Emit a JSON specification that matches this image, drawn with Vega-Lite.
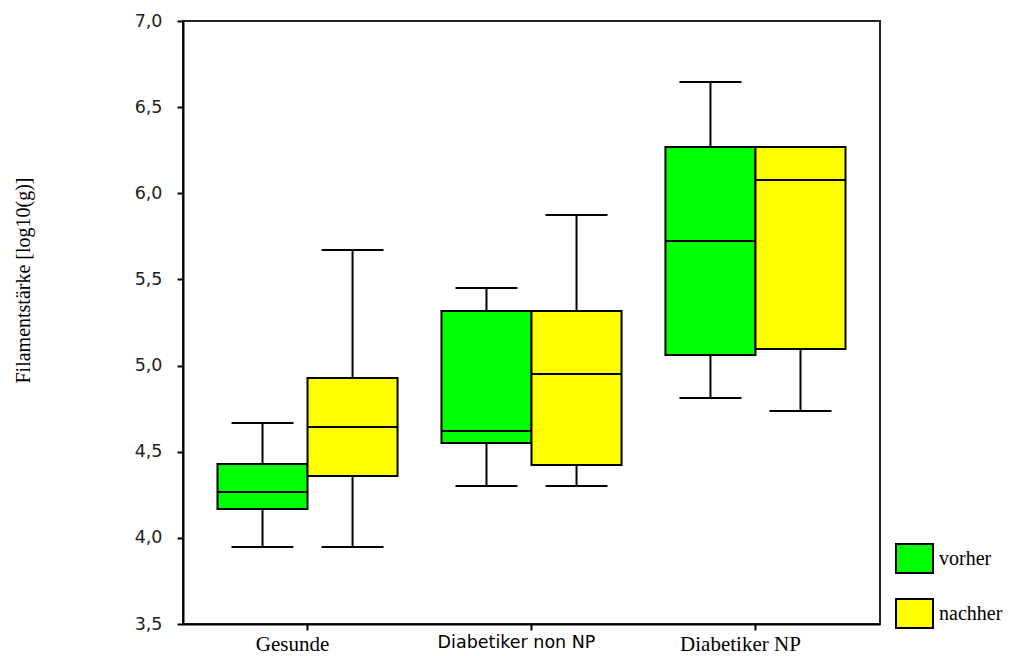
{
  "$schema": "https://vega.github.io/schema/vega-lite/v6.json",
  "autosize": {"type": "none"},
  "padding": {"left": 183, "top": 21, "right": 130, "bottom": 32},
  "width": 697,
  "height": 603,
  "background": "white",
  "config": {
    "view": {"stroke": "#222", "strokeWidth": 2},
    "axis": {"grid": false, "domainColor": "black", "domainWidth": 2, "tickColor": "black", "tickWidth": 2, "tickSize": 6}
  },
  "data": {
    "values": [
      {"group": "Gesunde", "time": "vorher", "min": 3.947, "q1": 4.168, "median": 4.266, "q3": 4.429, "max": 4.667},
      {"group": "Gesunde", "time": "nachher", "min": 3.947, "q1": 4.359, "median": 4.644, "q3": 4.928, "max": 5.671},
      {"group": "Diabetiker non NP", "time": "vorher", "min": 4.301, "q1": 4.551, "median": 4.62, "q3": 5.317, "max": 5.45},
      {"group": "Diabetiker non NP", "time": "nachher", "min": 4.301, "q1": 4.423, "median": 4.951, "q3": 5.317, "max": 5.874},
      {"group": "Diabetiker NP", "time": "vorher", "min": 4.812, "q1": 5.062, "median": 5.723, "q3": 6.269, "max": 6.646},
      {"group": "Diabetiker NP", "time": "nachher", "min": 4.737, "q1": 5.096, "median": 6.077, "q3": 6.269, "max": 6.269}
    ]
  },
  "encoding": {
    "x": {
      "field": "group", "type": "nominal",
      "sort": ["Gesunde", "Diabetiker non NP", "Diabetiker NP"],
      "scale": {"paddingInner": 0.196, "paddingOuter": 0.154},
      "axis": {
        "title": null, "labelAngle": 0,
        "labelFont": {"expr": "datum.value == 'Diabetiker non NP' ? 'DejaVu Sans' : 'Liberation Serif'"},
        "labelFontSize": {"expr": "datum.value == 'Diabetiker non NP' ? 17.5 : 21"},
        "labelColor": "black", "labelPadding": 3, "labelOffset": -15
      }
    },
    "xOffset": {"field": "time", "type": "nominal", "sort": ["vorher", "nachher"], "scale": {"paddingInner": 0, "paddingOuter": 0}}
  },
  "layer": [
    {
      "mark": {"type": "rule", "color": "black", "strokeWidth": 2},
      "encoding": {
        "y": {
          "field": "min", "type": "quantitative",
          "scale": {"domain": [3.5, 7], "nice": false, "zero": false},
          "axis": {
            "values": [3.5, 4, 4.5, 5, 5.5, 6, 6.5, 7],
            "labelExpr": "replace(format(datum.value, '.1f'), '.', ',')",
            "labelFont": "DejaVu Sans", "labelFontSize": 17.5, "labelColor": "#222", "labelPadding": 15,
            "title": "Filamentstärke [log10(g)]",
            "titleFont": "Liberation Serif", "titleFontSize": 20, "titleFontWeight": "normal", "titleColor": "black",
            "titleX": -150, "titleY": 259, "titleAngle": -90, "titleAlign": "center", "titleBaseline": "bottom"
          }
        },
        "y2": {"field": "max"}
      }
    },
    {
      "mark": {"type": "tick", "color": "black", "size": 62, "thickness": 2, "opacity": 1},
      "encoding": {"y": {"field": "min", "type": "quantitative"}}
    },
    {
      "mark": {"type": "tick", "color": "black", "size": 62, "thickness": 2, "opacity": 1},
      "encoding": {"y": {"field": "max", "type": "quantitative"}}
    },
    {
      "mark": {"type": "bar", "stroke": "black", "strokeWidth": 2, "opacity": 1},
      "encoding": {
        "y": {"field": "q1", "type": "quantitative"},
        "y2": {"field": "q3"},
        "color": {
          "field": "time", "type": "nominal",
          "scale": {"domain": ["vorher", "nachher"], "range": ["#00FF00", "#FFFF00"]},
          "legend": {
            "title": null, "orient": "none", "legendX": 712, "legendY": 518,
            "symbolType": "M-1,-0.78H1V0.78H-1Z", "symbolSize": 1369,
            "symbolStrokeColor": "black", "symbolStrokeWidth": 2, "symbolOpacity": 1,
            "labelFont": "Liberation Serif", "labelFontSize": 20, "labelColor": "black",
            "labelOffset": 5, "rowPadding": 17
          }
        }
      }
    },
    {
      "mark": {"type": "tick", "color": "black", "size": 90, "thickness": 2, "opacity": 1},
      "encoding": {"y": {"field": "median", "type": "quantitative"}}
    }
  ]
}
